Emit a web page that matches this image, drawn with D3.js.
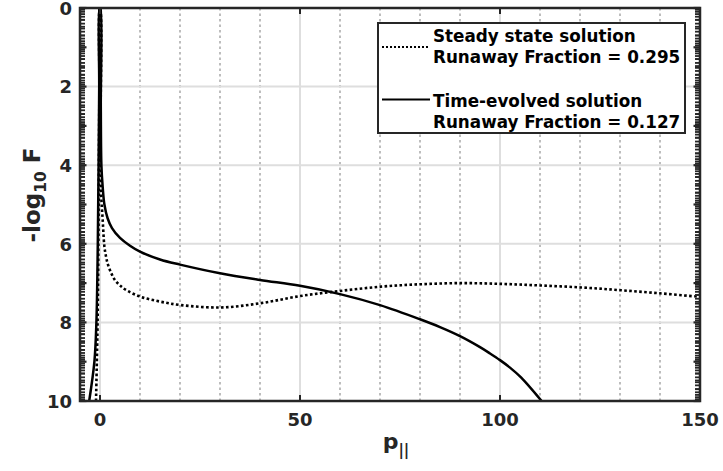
<!DOCTYPE html>
<html>
<head>
<meta charset="utf-8">
<script src="https://cdn.jsdelivr.net/npm/d3@7"></script>
<style>
  html, body { margin: 0; padding: 0; background: #fff; }
  svg { display: block; font-family: "DejaVu Sans", sans-serif; font-weight: bold; }
</style>
</head>
<body>
<svg id="chart" width="723" height="471"></svg>
<script>
// Parallel-momentum distributions, shown as -log10 F
const pSteady = [-1.0, -0.6, -0.4, -0.28, -0.15, -0.05, 0.05, 0.15, 0.25, 0.67, 1.1, 1.5, 1.9, 2.7, 3.6, 5, 6.9, 10.25, 15, 20.25, 30.25, 40.25, 50, 60, 70.25, 80, 90.25, 100.25, 110, 120.25, 130, 140, 150];
const fSteady = [10, 8, 6, 4, 2, 0, 0, 3.0, 4.63, 5.39, 6.07, 6.32, 6.5, 6.72, 6.9, 7.06, 7.2, 7.35, 7.47, 7.56, 7.62, 7.51, 7.33, 7.2, 7.09, 7.03, 7.0, 7.02, 7.06, 7.11, 7.18, 7.26, 7.35];

const pTime = [-2.7, -1.4, -0.9, -0.55, -0.35, -0.2, -0.08, 0.08, 0.2, 0.35, 0.67, 1.1, 1.9, 3, 5, 7.5, 10, 15, 20, 30, 40, 50, 60, 70, 80, 85, 90, 95, 97.5, 100, 102.5, 105.25, 110.4];
const fTime = [10, 9, 8, 6, 4, 2, 0, 0, 2.5, 4.0, 4.55, 5.0, 5.35, 5.6, 5.85, 6.05, 6.2, 6.4, 6.53, 6.75, 6.92, 7.07, 7.28, 7.56, 7.92, 8.12, 8.35, 8.63, 8.79, 8.96, 9.15, 9.4, 10];

const xTicks = [0, 50, 100, 150];
const xMinorGrid = [10, 20, 30, 40, 60, 70, 80, 90, 110, 120, 130, 140];
const yTicks = [0, 2, 4, 6, 8, 10];
const yGrid = [2, 4, 6, 8];
const legendTitles = ["Steady state solution", "Time-evolved solution"];
const legendFractions = ["Runaway Fraction = 0.295", "Runaway Fraction = 0.127"];

const svg = d3.select("#chart");
const L = 80, R = 700, T = 8, B = 401;
const x = d3.scaleLinear().domain([-5, 150]).range([L, R]);
const y = d3.scaleLinear().domain([0, 10]).range([T, B]);
const ink = "#262626";

svg.append("defs").append("clipPath").attr("id", "plotClip")
  .append("rect").attr("x", L).attr("y", T).attr("width", R - L).attr("height", B - T);

// grid
const grid = svg.append("g");
grid.selectAll(".minor").data(xMinorGrid).join("line")
  .attr("x1", d => x(d)).attr("x2", d => x(d)).attr("y1", T).attr("y2", B)
  .attr("stroke", "#bdbdbd").attr("stroke-width", 2).attr("stroke-dasharray", "2.5,3");
grid.selectAll(".vmajor").data(xTicks.filter(d => d < 150)).join("line")
  .attr("x1", d => x(d)).attr("x2", d => x(d)).attr("y1", T).attr("y2", B)
  .attr("stroke", "#dedede").attr("stroke-width", 2);
grid.selectAll(".hmajor").data(yGrid).join("line")
  .attr("x1", L).attr("x2", R).attr("y1", d => y(d)).attr("y2", d => y(d))
  .attr("stroke", "#dedede").attr("stroke-width", 2);

// curves
const line = d3.line().x(d => x(d[0])).y(d => y(d[1])).curve(d3.curveCatmullRom.alpha(0.5));
const plot = svg.append("g").attr("clip-path", "url(#plotClip)");
plot.append("path").datum(d3.zip(pSteady, fSteady)).attr("d", line)
  .attr("fill", "none").attr("stroke", "#000").attr("stroke-width", 2.6).attr("stroke-dasharray", "2.6,2.4");
plot.append("path").datum(d3.zip(pTime, fTime)).attr("d", line)
  .attr("fill", "none").attr("stroke", "#000").attr("stroke-width", 2.5);

// minor ticks on the -log10 axis, placed at decade subdivisions
const minorVals = [];
for (let n = 0; n < 10; n++) {
  for (let k = 2; k <= 9; k++) {
    minorVals.push(n + Math.log10(k));
    minorVals.push(n + 1 - Math.log10(k));
  }
}
const ticksG = svg.append("g").attr("stroke", ink);
ticksG.selectAll(".lm").data(minorVals).join("line")
  .attr("x1", L).attr("x2", L + 5).attr("y1", d => y(d)).attr("y2", d => y(d)).attr("stroke-width", 1.8);
ticksG.selectAll(".rm").data(minorVals).join("line")
  .attr("x1", R).attr("x2", R - 5).attr("y1", d => y(d)).attr("y2", d => y(d)).attr("stroke-width", 1.8);
ticksG.selectAll(".lM").data(d3.range(0, 11)).join("line")
  .attr("x1", L).attr("x2", L + 6.5).attr("y1", d => y(d)).attr("y2", d => y(d)).attr("stroke-width", 2.2);
ticksG.selectAll(".rM").data(d3.range(0, 11)).join("line")
  .attr("x1", R).attr("x2", R - 6.5).attr("y1", d => y(d)).attr("y2", d => y(d)).attr("stroke-width", 2.2);
ticksG.selectAll(".bM").data(xTicks).join("line")
  .attr("x1", d => x(d)).attr("x2", d => x(d)).attr("y1", B).attr("y2", B - 6).attr("stroke-width", 2);
ticksG.selectAll(".tM").data(xTicks).join("line")
  .attr("x1", d => x(d)).attr("x2", d => x(d)).attr("y1", T).attr("y2", T + 6).attr("stroke-width", 2);

// frame
svg.append("rect").attr("x", L).attr("y", T).attr("width", R - L).attr("height", B - T)
  .attr("fill", "none").attr("stroke", ink).attr("stroke-width", 2.5);

// tick labels
svg.append("g").selectAll("text").data(xTicks).join("text")
  .attr("x", d => x(d)).attr("y", 426).attr("text-anchor", "middle")
  .attr("font-size", 18).attr("fill", ink).text(d => d);
svg.append("g").selectAll("text").data(yTicks).join("text")
  .attr("x", 72).attr("y", d => y(d)).attr("dy", "0.38em").attr("text-anchor", "end")
  .attr("font-size", 18).attr("fill", ink).text(d => d);

// axis titles
const xt = svg.append("text").attr("x", 396).attr("y", 449).attr("text-anchor", "middle")
  .attr("font-size", 22).attr("fill", ink);
xt.append("tspan").text("p");
xt.append("tspan").attr("font-size", 15).attr("dy", 6).text("||");

const yt = svg.append("text").attr("transform", "translate(40,195) rotate(-90)")
  .attr("text-anchor", "middle").attr("font-size", 23).attr("fill", ink);
yt.append("tspan").text("-log");
yt.append("tspan").attr("font-size", 15.5).attr("dy", 6).text("10");
yt.append("tspan").attr("dy", -6).text(" F");

// legend
const lg = svg.append("g");
lg.append("rect").attr("x", 378).attr("y", 23).attr("width", 307).attr("height", 110)
  .attr("fill", "#fff").attr("stroke", ink).attr("stroke-width", 2);
const rows = [{dash: "2,2", y0: 42, sy: 47}, {dash: null, y0: 106.5, sy: 99.5}];
rows.forEach((r, i) => {
  const sample = lg.append("line").attr("x1", 382).attr("x2", 430)
    .attr("y1", r.sy).attr("y2", r.sy).attr("stroke", "#000").attr("stroke-width", 2);
  if (r.dash) sample.attr("stroke-dasharray", r.dash);
  lg.append("text").attr("x", 433).attr("y", r.y0).attr("font-size", 16.8).attr("fill", "#000").text(legendTitles[i]);
  lg.append("text").attr("x", 433).attr("y", r.y0 + 21).attr("font-size", 16.8).attr("fill", "#000").text(legendFractions[i]);
});
</script>
</body>
</html>
